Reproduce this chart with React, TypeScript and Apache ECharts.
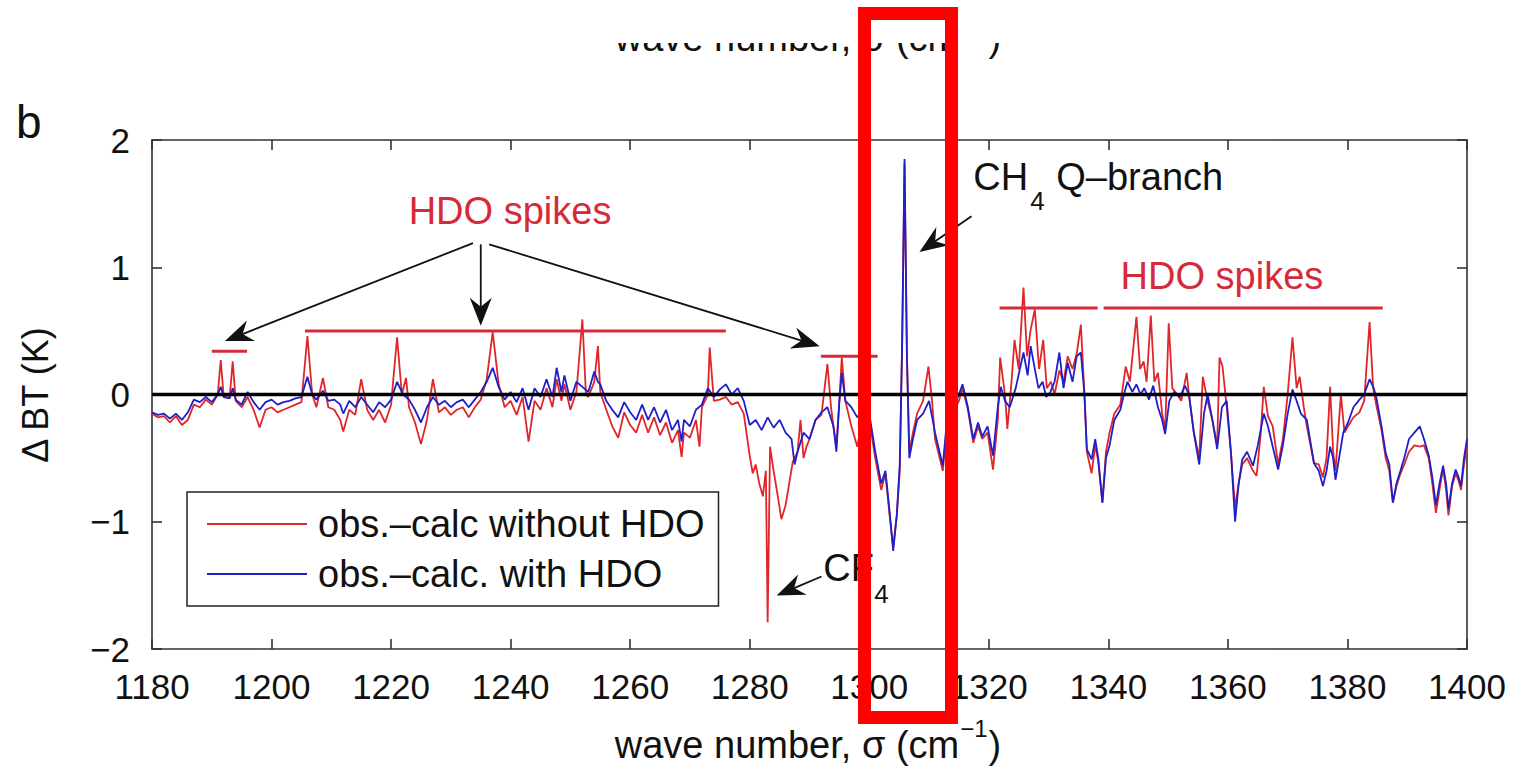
import React, { useEffect, useRef } from "react";
import * as echarts from "echarts";

const FONT = "'Liberation Sans', Arial, Helvetica, sans-serif";

// Axis ranges and tick spacing
const xRange = { min: 1180, max: 1400, step: 20 };
const yRange = { min: -2, max: 2, step: 1 };

const seriesNames = ["obs.\u2013calc without HDO", "obs.\u2013calc. with HDO"];

// Residual spectrum computed without HDO: [wave number (cm-1), ΔBT (K)]
const withoutHDO: [number, number][] = [
  [1180, -0.15], [1181, -0.18], [1182, -0.17], [1183, -0.22], [1184, -0.17], [1185, -0.24], [1186, -0.2],
  [1187, -0.08], [1188, -0.1], [1189, -0.04], [1190, -0.08], [1191, 0.0], [1191.5, 0.27], [1192, -0.02],
  [1193, -0.02], [1193.5, 0.26], [1194, -0.05], [1195, -0.1], [1196, -0.02], [1197, -0.12], [1198, -0.26],
  [1199, -0.12], [1200, -0.1], [1201, -0.14], [1202, -0.12], [1203, -0.1], [1204, -0.08], [1205, -0.06],
  [1206, 0.46], [1206.8, 0.0], [1207.5, -0.1], [1208.6, 0.13], [1209.5, -0.1], [1210.5, -0.12], [1211.5, -0.2],
  [1212, -0.29], [1213, -0.12], [1214, -0.16], [1215, 0.12], [1216, -0.12], [1217, -0.2], [1218, -0.12],
  [1219, -0.22], [1220, -0.08], [1221, 0.45], [1221.8, 0.0], [1222.5, 0.13], [1223, -0.1], [1224, -0.22],
  [1225, -0.39], [1226, -0.2], [1227, 0.12], [1228, -0.14], [1229, -0.1], [1230, -0.16], [1231, -0.12],
  [1232, -0.1], [1233, -0.18], [1234, -0.1], [1235, -0.04], [1236, 0.12], [1237, 0.49], [1238, 0.08],
  [1239, -0.1], [1240, -0.05], [1241, -0.16], [1242, -0.02], [1243, -0.37], [1244, -0.05], [1245, -0.12],
  [1246, 0.05], [1247, -0.1], [1247.7, 0.12], [1248.5, -0.05], [1249, 0.08], [1250, -0.12], [1251, 0.02],
  [1252, 0.59], [1252.6, 0.0], [1253, -0.02], [1254, 0.1], [1254.6, 0.38], [1255, 0.02], [1256, -0.12],
  [1257, -0.25], [1258, -0.34], [1259, -0.14], [1260, -0.24], [1261, -0.3], [1262, -0.16], [1263, -0.3],
  [1264, -0.18], [1265, -0.32], [1266, -0.22], [1267, -0.38], [1268, -0.28], [1268.6, -0.49], [1269, -0.3],
  [1270, -0.34], [1271, -0.2], [1271.6, -0.41], [1272, -0.1], [1273, 0.0], [1273.3, 0.37], [1274, -0.05],
  [1275, -0.04], [1276, -0.02], [1277, -0.08], [1278, -0.06], [1279, -0.15], [1280, -0.48], [1280.5, -0.62],
  [1281, -0.55], [1281.6, -0.7], [1282.2, -0.8], [1282.7, -0.6], [1283, -1.79], [1283.4, -0.41], [1284, -0.6],
  [1284.7, -0.8], [1285.3, -0.98], [1286, -0.87], [1287.2, -0.53], [1288, -0.45], [1288.5, -0.2], [1289, -0.5],
  [1289.5, -0.41], [1290, -0.35], [1291, -0.2], [1292, -0.16], [1293, 0.24], [1293.6, -0.1], [1294, -0.25],
  [1294.5, -0.4], [1295, -0.05], [1295.4, 0.29], [1296, -0.05], [1297, -0.25], [1298, -0.41], [1299, -0.15],
  [1300, -0.2], [1301, -0.5], [1302, -0.75], [1302.7, -0.62], [1303.4, -0.95], [1304, -1.2], [1304.6, -0.95],
  [1305.1, -0.6], [1305.5, 0.4], [1305.9, 1.82], [1306.3, 0.3], [1306.7, -0.45], [1307.3, -0.3], [1308, -0.15],
  [1309, -0.05], [1309.9, 0.22], [1310.5, -0.05], [1311, -0.35], [1312.3, -0.6], [1313, -0.25], [1314, -0.15],
  [1315, -0.05], [1315.6, 0.05], [1316.5, -0.12], [1317.4, -0.38], [1318.2, -0.25], [1318.9, -0.35],
  [1319.8, -0.3], [1320.7, -0.59], [1321.5, -0.2], [1321.9, 0.29], [1322.7, 0.0], [1323.1, -0.27], [1323.8, 0.1],
  [1324.3, 0.43], [1325, 0.2], [1325.8, 0.84], [1326.4, 0.3], [1327, 0.51], [1327.7, 0.67], [1328.4, 0.2],
  [1329.1, 0.43], [1329.7, 0.05], [1330.4, 0.1], [1331, 0.0], [1331.8, 0.19], [1332.5, 0.1], [1333.2, 0.3],
  [1334, 0.2], [1334.7, 0.32], [1335.4, 0.55], [1336, 0.0], [1336.4, -0.45], [1337.2, -0.62], [1337.8, -0.4],
  [1338.3, -0.52], [1339, -0.85], [1339.6, -0.45], [1340.2, -0.3], [1341, -0.15], [1342, -0.08], [1342.9, 0.22],
  [1343.6, 0.1], [1344.7, 0.61], [1345.3, 0.2], [1345.9, 0.26], [1346.4, 0.1], [1347.1, 0.62], [1347.7, 0.1],
  [1348.3, 0.17], [1349, -0.15], [1349.5, -0.28], [1350.1, 0.56], [1350.7, 0.05], [1351.5, 0.0], [1352.2, -0.05],
  [1353.1, 0.17], [1353.6, -0.05], [1354.3, -0.3], [1355.2, -0.5], [1355.8, 0.14], [1356.6, -0.05],
  [1357.4, -0.2], [1358.2, -0.4], [1358.6, 0.29], [1359.1, 0.22], [1359.8, -0.1], [1360.5, -0.45],
  [1361.2, -0.89], [1361.8, -0.7], [1362.4, -0.55], [1363.2, -0.5], [1364.2, -0.6], [1364.8, -0.64],
  [1365.5, -0.3], [1366, 0.06], [1366.7, -0.17], [1367.5, -0.25], [1368.4, -0.55], [1369.2, -0.35], [1370, 0.0],
  [1370.8, 0.45], [1371.5, 0.05], [1372, 0.14], [1372.7, -0.1], [1373.2, -0.25], [1374.4, -0.54], [1375.2, -0.55],
  [1375.9, -0.65], [1376.5, -0.5], [1377.1, 0.06], [1377.6, -0.45], [1378, -0.6], [1378.9, 0.0], [1379.5, -0.3],
  [1380.1, -0.25], [1381, -0.18], [1382, -0.14], [1382.8, -0.05], [1383.7, 0.57], [1384.3, 0.05], [1384.9, -0.1],
  [1385.7, -0.28], [1386.4, -0.5], [1387, -0.6], [1387.6, -0.85], [1388.2, -0.72], [1388.8, -0.63],
  [1389.5, -0.55], [1390.3, -0.45], [1391.2, -0.4], [1392.1, -0.41], [1392.8, -0.4], [1393.6, -0.5],
  [1394.2, -0.7], [1394.8, -0.93], [1395.4, -0.75], [1396, -0.58], [1396.5, -0.75], [1396.9, -0.95],
  [1397.5, -0.72], [1398.1, -0.62], [1398.6, -0.68], [1399, -0.75], [1399.5, -0.55], [1400, -0.4],
];

// Residual spectrum computed with HDO: [wave number (cm-1), ΔBT (K)]
const withHDO: [number, number][] = [
  [1180, -0.14], [1181, -0.16], [1182, -0.15], [1183, -0.19], [1184, -0.15], [1185, -0.2], [1186, -0.14],
  [1187, -0.04], [1188, -0.06], [1189, -0.02], [1190, -0.06], [1191, 0.0], [1191.5, 0.06], [1192, -0.02],
  [1193, -0.03], [1193.5, 0.05], [1194, -0.04], [1195, -0.08], [1196, 0.02], [1197, -0.06], [1198, -0.12],
  [1199, -0.06], [1200, -0.04], [1201, -0.08], [1202, -0.06], [1203, -0.05], [1204, -0.03], [1205, -0.02],
  [1206, 0.14], [1206.8, 0.0], [1207.5, -0.04], [1208.6, 0.03], [1209.5, -0.05], [1210.5, -0.04], [1211.5, -0.08],
  [1212, -0.15], [1213, -0.05], [1214, -0.1], [1215, -0.02], [1216, -0.08], [1217, -0.14], [1218, -0.06],
  [1219, -0.1], [1220, -0.04], [1221, 0.1], [1222, 0.0], [1223, -0.04], [1224, -0.12], [1225, -0.22],
  [1226, -0.1], [1227, -0.02], [1228, -0.08], [1229, -0.05], [1230, -0.1], [1231, -0.06], [1232, -0.04],
  [1233, -0.1], [1234, -0.04], [1235, 0.02], [1236, 0.1], [1237, 0.21], [1238, 0.06], [1239, -0.04],
  [1240, 0.02], [1241, -0.06], [1242, 0.05], [1243, -0.12], [1244, 0.05], [1245, -0.02], [1246, 0.12],
  [1247, -0.02], [1247.7, 0.21], [1248.5, 0.02], [1249, 0.15], [1250, -0.05], [1251, 0.1], [1252, 0.06],
  [1253, 0.02], [1254, 0.18], [1254.6, 0.1], [1255, 0.08], [1256, -0.05], [1257, -0.12], [1258, -0.18],
  [1259, -0.06], [1260, -0.14], [1261, -0.2], [1262, -0.08], [1263, -0.2], [1264, -0.1], [1265, -0.22],
  [1266, -0.12], [1267, -0.28], [1268, -0.2], [1268.6, -0.37], [1269, -0.2], [1270, -0.25], [1271, -0.12],
  [1272, -0.08], [1273, 0.05], [1274, -0.02], [1275, 0.04], [1276, 0.08], [1277, 0.0], [1278, 0.05],
  [1279, -0.05], [1280, -0.24], [1281, -0.2], [1282, -0.28], [1283, -0.18], [1284, -0.26], [1285, -0.2],
  [1286, -0.3], [1287, -0.35], [1287.5, -0.55], [1288, -0.45], [1289, -0.3], [1290, -0.35], [1291, -0.2],
  [1292, -0.14], [1293, -0.1], [1294, -0.25], [1294.5, -0.45], [1295, -0.05], [1295.4, 0.17], [1296, -0.05],
  [1297, -0.1], [1298, -0.18], [1299, -0.12], [1300, -0.15], [1301, -0.45], [1302, -0.7], [1302.7, -0.6],
  [1303.4, -0.92], [1304, -1.23], [1304.6, -0.95], [1305.1, -0.55], [1305.5, 0.4], [1305.9, 1.85],
  [1306.3, 0.3], [1306.7, -0.5], [1307.3, -0.35], [1308, -0.2], [1309, -0.15], [1310, -0.05], [1311, -0.3],
  [1312.3, -0.56], [1313, -0.2], [1314, -0.1], [1315, 0.0], [1315.6, 0.08], [1316.5, -0.1], [1317.4, -0.35],
  [1318.2, -0.22], [1318.9, -0.33], [1319.8, -0.25], [1320.7, -0.48], [1321.5, -0.1], [1322, 0.06],
  [1322.7, -0.05], [1323.5, -0.1], [1324.5, 0.05], [1325.2, 0.2], [1325.8, 0.33], [1326.5, 0.15], [1327, 0.38],
  [1327.7, 0.2], [1328.3, 0.05], [1329, 0.1], [1329.6, -0.02], [1330.3, 0.02], [1331, 0.1], [1331.8, 0.33],
  [1332.5, 0.05], [1333.2, 0.25], [1334, 0.1], [1334.7, 0.3], [1335.4, 0.33], [1336, 0.0], [1336.4, -0.43],
  [1337.2, -0.51], [1337.8, -0.35], [1338.3, -0.5], [1339, -0.85], [1339.6, -0.5], [1340.2, -0.4], [1341, -0.2],
  [1342, -0.12], [1342.6, 0.0], [1343.2, 0.1], [1344, 0.02], [1344.7, 0.08], [1345.4, 0.0], [1346, 0.05],
  [1346.8, -0.04], [1347.5, 0.07], [1348.3, -0.1], [1349, -0.2], [1349.5, -0.31], [1350.2, -0.05], [1351, 0.02],
  [1352, -0.02], [1352.8, 0.07], [1353.5, 0.0], [1354.3, -0.3], [1355.2, -0.55], [1356, -0.15], [1356.6, 0.0],
  [1357.4, -0.2], [1358.2, -0.43], [1359, -0.1], [1359.8, -0.05], [1360.5, -0.45], [1361.2, -1.0], [1361.8, -0.7],
  [1362.4, -0.51], [1363.2, -0.45], [1364.2, -0.56], [1365, -0.4], [1366, -0.15], [1366.7, -0.25],
  [1367.5, -0.41], [1368.4, -0.59], [1369.2, -0.4], [1370, -0.15], [1370.8, 0.04], [1371.5, -0.05],
  [1372.2, -0.15], [1373.2, -0.2], [1374.4, -0.54], [1375.2, -0.6], [1375.9, -0.72], [1376.5, -0.6],
  [1377.1, -0.41], [1377.6, -0.5], [1378, -0.67], [1378.6, -0.5], [1379.3, -0.3], [1380.1, -0.22], [1381, -0.1],
  [1382, -0.04], [1382.8, 0.0], [1383.7, 0.12], [1384.4, 0.05], [1384.9, -0.04], [1385.7, -0.25], [1386.4, -0.46],
  [1387, -0.55], [1387.6, -0.85], [1388.2, -0.7], [1388.8, -0.61], [1389.5, -0.5], [1390.3, -0.35],
  [1391.2, -0.3], [1392.1, -0.25], [1392.8, -0.35], [1393.6, -0.48], [1394.2, -0.65], [1394.8, -0.87],
  [1395.4, -0.7], [1396, -0.56], [1396.5, -0.7], [1396.9, -0.9], [1397.5, -0.7], [1398.1, -0.59],
  [1398.6, -0.65], [1399, -0.72], [1399.5, -0.5], [1400, -0.35],
];

// Zero reference line
const zeroLine: [number, number][] = [[1180, 0], [1400, 0]];

// Horizontal markers over the HDO lines: [from, to, level] in data units
const hdoBars: [number, number, number][] = [
  [1190, 1195.9, 0.34],
  [1205.6, 1276, 0.5],
  [1291.9, 1301.4, 0.3],
  [1321.8, 1338.2, 0.68],
  [1339.2, 1385.9, 0.68],
];

// Annotation arrows: [start, tip] in data units
const hdoArrows: [[number, number], [number, number]][] = [
  [[1233.7, 1.19], [1192.2, 0.42]],
  [[1235.0, 1.18], [1235.0, 0.54]],
  [[1236.4, 1.18], [1291.7, 0.38]],
];
const ch4Arrow: [[number, number], [number, number]] = [[1317.1, 1.4], [1308.4, 1.12]];
const cf4Arrow: [[number, number], [number, number]] = [[1292.0, -1.43], [1284.5, -1.58]];

const RED_TRACE = "#e0262b";
const BLUE_TRACE = "#1f1fc8";
const NOTE_RED = "#d62a3a";
const INK = "#111";

function arrowGraphics(a: number[], b: number[]) {
  const dx = b[0] - a[0];
  const dy = b[1] - a[1];
  const len = Math.hypot(dx, dy) || 1;
  const ux = dx / len;
  const uy = dy / len;
  const nx = -uy;
  const ny = ux;
  const L = 28;
  const W = 11;
  const notch = 9;
  const back = [b[0] - ux * L, b[1] - uy * L];
  const mid = [b[0] - ux * (L - notch), b[1] - uy * (L - notch)];
  return [
    {
      type: "line",
      shape: { x1: a[0], y1: a[1], x2: mid[0], y2: mid[1] },
      style: { stroke: INK, lineWidth: 1.8 },
      z: 20,
    },
    {
      type: "polygon",
      shape: {
        points: [
          [b[0], b[1]],
          [back[0] + nx * W, back[1] + ny * W],
          [mid[0], mid[1]],
          [back[0] - nx * W, back[1] - ny * W],
        ],
      },
      style: { fill: INK },
      z: 20,
    },
  ];
}

let measureCtx: CanvasRenderingContext2D | null = null;
function textWidth(text: string, size: number) {
  if (!measureCtx) measureCtx = document.createElement("canvas").getContext("2d");
  if (!measureCtx) return text.length * size * 0.5;
  measureCtx.font = `${size}px ${FONT}`;
  return measureCtx.measureText(text).width;
}

// "wave number, σ (cm⁻¹)" built from three pieces so the exponent sits high
function axisTitle(cx: number, cy: number, z: number) {
  const main = "wave number, \u03c3 (cm";
  const sup = "\u22121";
  const close = ")";
  const w1 = textWidth(main, 38);
  const w2 = textWidth(sup, 24);
  const w3 = textWidth(close, 38);
  const x0 = cx - (w1 + w2 + w3 + 2) / 2;
  const base = { fontFamily: FONT, fill: INK, align: "left", verticalAlign: "middle" };
  return [
    { type: "text", x: x0, y: cy, z, style: { ...base, text: main, fontSize: 38 } },
    { type: "text", x: x0 + w1 + 1, y: cy - 17, z, style: { ...base, text: sup, fontSize: 24 } },
    { type: "text", x: x0 + w1 + w2 + 2, y: cy, z, style: { ...base, text: close, fontSize: 38 } },
  ];
}

export default function App() {
  const ref = useRef<HTMLDivElement>(null);

  useEffect(() => {
    if (!ref.current) return;
    const chart = echarts.init(ref.current, undefined, { renderer: "svg" });

    const minusFmt = (v: number) => (v < 0 ? "\u2212" + Math.abs(v) : String(v));

    const axisLineStyle = { color: "#333", width: 1.6 };
    const tickStyle = { show: true, inside: true, length: 10, lineStyle: { color: "#333", width: 1.6 } };

    chart.setOption({
      animation: false,
      backgroundColor: "#fff",
      grid: { left: 152, right: 47, top: 140, bottom: 122, containLabel: false },
      legend: {
        orient: "vertical",
        left: 187,
        top: 492,
        padding: [13, 14, 13, 20],
        itemGap: 12,
        itemWidth: 100,
        itemHeight: 2,
        icon: "rect",
        borderColor: "#222",
        borderWidth: 1.5,
        backgroundColor: "#fff",
        data: seriesNames,
        textStyle: { fontSize: 38, color: INK, fontFamily: FONT, padding: [0, 0, 0, 6] },
        z: 30,
      },
      xAxis: [
        {
          type: "value",
          min: xRange.min,
          max: xRange.max,
          interval: xRange.step,
          position: "bottom",
          axisLine: { show: true, onZero: false, lineStyle: axisLineStyle },
          axisTick: tickStyle,
          axisLabel: { fontSize: 35, color: INK, fontFamily: FONT, margin: 20, formatter: (v: number) => String(v) },
          splitLine: { show: false },
        },
        {
          type: "value",
          min: xRange.min,
          max: xRange.max,
          interval: xRange.step,
          position: "top",
          axisLine: { show: true, onZero: false, lineStyle: axisLineStyle },
          axisTick: tickStyle,
          axisLabel: { show: false },
          splitLine: { show: false },
        },
      ],
      yAxis: [
        {
          type: "value",
          min: yRange.min,
          max: yRange.max,
          interval: yRange.step,
          position: "left",
          axisLine: { show: true, onZero: false, lineStyle: axisLineStyle },
          axisTick: tickStyle,
          axisLabel: { fontSize: 35, color: INK, fontFamily: FONT, margin: 22, formatter: minusFmt },
          splitLine: { show: false },
        },
        {
          type: "value",
          min: yRange.min,
          max: yRange.max,
          interval: yRange.step,
          position: "right",
          axisLine: { show: true, onZero: false, lineStyle: axisLineStyle },
          axisTick: tickStyle,
          axisLabel: { show: false },
          splitLine: { show: false },
        },
      ],
      series: [
        {
          name: seriesNames[0],
          type: "line",
          data: withoutHDO,
          symbol: "none",
          lineStyle: { color: RED_TRACE, width: 1.8 },
          itemStyle: { color: RED_TRACE },
          z: 2,
        },
        {
          name: seriesNames[1],
          type: "line",
          data: withHDO,
          symbol: "none",
          lineStyle: { color: BLUE_TRACE, width: 1.8 },
          itemStyle: { color: BLUE_TRACE },
          z: 3,
        },
        {
          name: "zero",
          type: "line",
          data: zeroLine,
          symbol: "none",
          silent: true,
          lineStyle: { color: "#000", width: 3.5 },
          z: 4,
        },
      ],
    });

    const P = (x: number, y: number) => chart.convertToPixel({ seriesIndex: 0 }, [x, y]) as number[];

    const graphics: any[] = [];

    // Clipped caption from the panel above
    graphics.push(...axisTitle(808, 38, 5));
    graphics.push({ type: "rect", shape: { x: 560, y: 0, width: 500, height: 43 }, style: { fill: "#fff" }, z: 6 });

    // Axis titles and panel letter
    graphics.push(...axisTitle(808, 745, 10));
    graphics.push({
      type: "text",
      x: 35,
      y: 395,
      rotation: Math.PI / 2,
      style: { text: "\u0394 BT (K)", fontSize: 36, fontFamily: FONT, fill: INK, align: "center", verticalAlign: "middle" },
      z: 10,
    });
    graphics.push({
      type: "text",
      x: 16,
      y: 122,
      style: { text: "b", fontSize: 46, fontFamily: FONT, fill: INK, align: "left", verticalAlign: "middle" },
      z: 10,
    });

    // HDO annotations
    const hdoLeft = P(1239.9, 1.44);
    const hdoRight = P(1359.0, 0.93);
    [hdoLeft, hdoRight].forEach((p) =>
      graphics.push({
        type: "text",
        x: p[0],
        y: p[1],
        style: { text: "HDO spikes", fontSize: 38, fontFamily: FONT, fill: NOTE_RED, align: "center", verticalAlign: "middle" },
        z: 20,
      })
    );
    hdoBars.forEach(([x0, x1, lvl]) => {
      const a = P(x0, lvl);
      const b = P(x1, lvl);
      graphics.push({
        type: "line",
        shape: { x1: a[0], y1: a[1], x2: b[0], y2: b[1] },
        style: { stroke: NOTE_RED, lineWidth: 3 },
        z: 20,
      });
    });
    hdoArrows.forEach(([s, t]) => graphics.push(...arrowGraphics(P(s[0], s[1]), P(t[0], t[1]))));

    // CH4 Q-branch label
    const ch4 = P(1317.4, 1.71);
    graphics.push({
      type: "text",
      x: ch4[0],
      y: ch4[1],
      style: { text: "CH", fontSize: 38, fontFamily: FONT, fill: INK, align: "left", verticalAlign: "middle" },
      z: 20,
    });
    graphics.push({
      type: "text",
      x: ch4[0] + 57,
      y: ch4[1] + 24,
      style: { text: "4", fontSize: 26, fontFamily: FONT, fill: INK, align: "left", verticalAlign: "middle" },
      z: 20,
    });
    graphics.push({
      type: "text",
      x: ch4[0] + 83,
      y: ch4[1],
      style: { text: "Q\u2013branch", fontSize: 38, fontFamily: FONT, fill: INK, align: "left", verticalAlign: "middle" },
      z: 20,
    });
    graphics.push(...arrowGraphics(P(ch4Arrow[0][0], ch4Arrow[0][1]), P(ch4Arrow[1][0], ch4Arrow[1][1])));

    // CF4 label
    const cf4 = P(1292.3, -1.36);
    graphics.push({
      type: "text",
      x: cf4[0],
      y: cf4[1],
      style: { text: "CF", fontSize: 38, fontFamily: FONT, fill: INK, align: "left", verticalAlign: "middle" },
      z: 20,
    });
    graphics.push({
      type: "text",
      x: cf4[0] + 51,
      y: cf4[1] + 26,
      style: { text: "4", fontSize: 26, fontFamily: FONT, fill: INK, align: "left", verticalAlign: "middle" },
      z: 20,
    });
    graphics.push(...arrowGraphics(P(cf4Arrow[0][0], cf4Arrow[0][1]), P(cf4Arrow[1][0], cf4Arrow[1][1])));

    // Highlight frame around the CH4 Q-branch
    graphics.push({
      type: "rect",
      shape: { x: 864.5, y: 13.5, width: 87, height: 704 },
      style: { fill: "none", stroke: "#ff0000", lineWidth: 13 },
      z: 50,
    });

    chart.setOption({ graphic: graphics });

    return () => chart.dispose();
  }, []);

  return <div ref={ref} style={{ position: "fixed", left: 0, top: 0, width: 1514, height: 771, background: "#fff" }} />;
}
